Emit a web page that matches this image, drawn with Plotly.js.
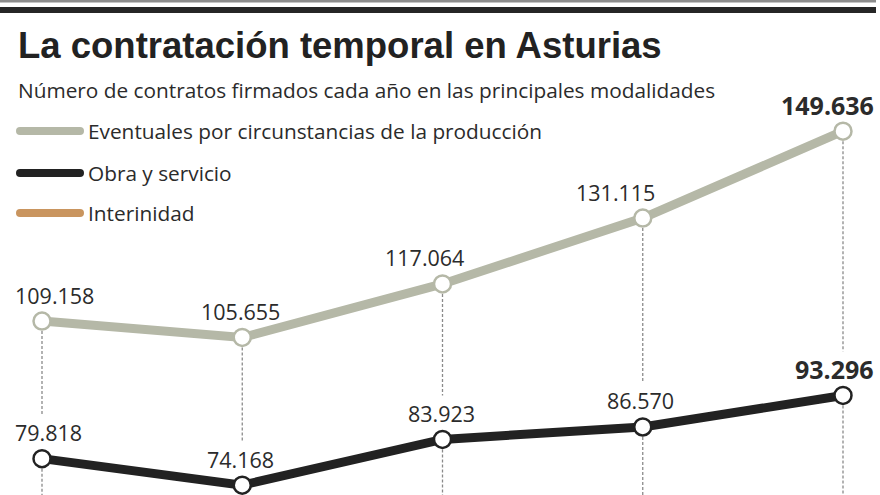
<!DOCTYPE html>
<html>
<head>
<meta charset="utf-8">
<script src="https://cdn.plot.ly/plotly-3.0.1.min.js"></script>
<style>html,body{margin:0;padding:0;background:#fff;}#chart{width:880px;height:495px;}</style>
</head>
<body>
<div id="chart"></div>
<script>
// ---- data ----
const years = [2013, 2014, 2015, 2016, 2017];
const eventuales = [109158, 105655, 117064, 131115, 149636];
const obraServicio = [79818, 74168, 83923, 86570, 93296];
const seriesNames = ["Eventuales por circunstancias de la producción", "Obra y servicio", "Interinidad"];
const titleText = "La contratación temporal en Asturias";
const subtitleText = "Número de contratos firmados cada año en las principales modalidades";

// ---- style ----
const W = 880, H = 495;
const colGrey = "#b5b8a7", colBlack = "#222222", colTan = "#c9955f";
const textCol = "#2b2b2b";
const fmt = v => v.toLocaleString("de-DE");
const px = x => x / W;          // pixel -> paper
const py = y => 1 - y / H;
const pxPerUnit = 0.00469, yTopVal = 833 / pxPerUnit;
const yRange = [yTopVal - H / pxPerUnit, yTopVal];
const xStep = 200.25, x0px = 42;
const xRange = [years[0] - x0px / xStep, years[0] + (W - x0px) / xStep];

const traces = [
  {x: years, y: eventuales, mode: "lines+markers", name: seriesNames[0],
   line: {color: colGrey, width: 9},
   marker: {size: 17, color: "#fff", line: {color: colGrey, width: 2.5}}},
  {x: years, y: obraServicio, mode: "lines+markers", name: seriesNames[1],
   line: {color: colBlack, width: 9},
   marker: {size: 17, color: "#fff", line: {color: colBlack, width: 2.5}}}
];

const shapes = [
  {type: "rect", xref: "paper", yref: "paper", x0: 0, x1: px(876), y0: py(0), y1: py(2.5), fillcolor: "#8c8c8c", line: {width: 0}},
  {type: "rect", xref: "paper", yref: "paper", x0: 0, x1: px(876), y0: py(7), y1: py(13), fillcolor: "#262626", line: {width: 0}}
];
const gapUnits = 44 / pxPerUnit;
years.forEach((yr, i) => {
  shapes.push({type: "line", xref: "x", yref: "y", layer: "below", x0: yr, x1: yr,
    y0: eventuales[i], y1: obraServicio[i] + gapUnits, line: {color: "#8a8a8a", width: 1.3, dash: "3px,2px"}});
  shapes.push({type: "line", xref: "x", yref: "y", layer: "below", x0: yr, x1: yr,
    y0: obraServicio[i], y1: yRange[0], line: {color: "#8a8a8a", width: 1.3, dash: "3px,2px"}});
});
// legend swatches
const legendCols = [colGrey, colBlack, colTan];
const legendY = [131, 173, 213];
legendCols.forEach((c, i) => {
  shapes.push({type: "line", xref: "paper", yref: "paper", x0: px(20), x1: px(80), y0: py(legendY[i]), y1: py(legendY[i]),
    line: {color: c, width: 8}});
  shapes.push({type: "circle", xref: "paper", yref: "paper", x0: px(16), x1: px(24), y0: py(legendY[i] - 4), y1: py(legendY[i] + 4), fillcolor: c, line: {width: 0}});
  shapes.push({type: "circle", xref: "paper", yref: "paper", x0: px(76), x1: px(84), y0: py(legendY[i] - 4), y1: py(legendY[i] + 4), fillcolor: c, line: {width: 0}});
});

const annotations = [
  {text: titleText, xref: "paper", yref: "paper", x: px(16), y: py(45), xanchor: "left", yanchor: "middle", showarrow: false,
   font: {family: "Liberation Sans, Arial, sans-serif", size: 36.5, color: "#222", weight: 700}},
  {text: subtitleText, xref: "paper", yref: "paper", x: px(16), y: py(90), xanchor: "left", yanchor: "middle", showarrow: false,
   font: {family: "Open Sans, sans-serif", size: 20.8, color: textCol}}
];
seriesNames.forEach((n, i) => {
  annotations.push({text: n, xref: "paper", yref: "paper", x: px(86), y: py(legendY[i]), xanchor: "left", yanchor: "middle", showarrow: false,
    font: {family: "Open Sans, sans-serif", size: 20.8, color: textCol}});
});
const shiftE = [12, -2, -18, -27, -16];
const shiftO = [6, -2, -1, -2, -9];
const last = years.length - 1;
years.forEach((yr, i) => {
  annotations.push({text: fmt(eventuales[i]), x: yr, y: eventuales[i], xref: "x", yref: "y", showarrow: false,
    xanchor: "center", yanchor: "middle", xshift: shiftE[i], yshift: 26,
    font: {family: "Open Sans, sans-serif", size: i === last ? 25 : 21.5, color: textCol, weight: i === last ? 700 : 400}});
  annotations.push({text: fmt(obraServicio[i]), x: yr, y: obraServicio[i], xref: "x", yref: "y", showarrow: false,
    xanchor: "center", yanchor: "middle", xshift: shiftO[i], yshift: 26,
    font: {family: "Open Sans, sans-serif", size: i === last ? 25 : 21.5, color: textCol, weight: i === last ? 700 : 400}});
});

const layout = {
  width: W, height: H, margin: {l: 0, r: 0, t: 0, b: 0},
  paper_bgcolor: "#fff", plot_bgcolor: "#fff", showlegend: false,
  xaxis: {range: xRange, visible: false, fixedrange: true},
  yaxis: {range: yRange, visible: false, fixedrange: true},
  shapes: shapes, annotations: annotations
};
Plotly.newPlot("chart", traces, layout, {displayModeBar: false, staticPlot: true});
</script>
</body>
</html>
